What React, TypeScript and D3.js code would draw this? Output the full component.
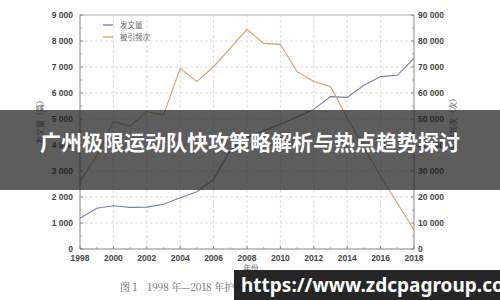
import React from "react";
import * as d3 from "d3";

const years = d3.range(1998, 2019);
const papers = [1180, 1570, 1665, 1600, 1610, 1720, 1970, 2200, 2680, 3800, 4300, 4550, 4800, 5080, 5370, 5860, 5830, 6300, 6630, 6680, 7330];
const citations = [25900, 36000, 49000, 47300, 52800, 51500, 69500, 64400, 70100, 77300, 84500, 79100, 78700, 68200, 64400, 62400, 50500, 39000, 28000, 17700, 7300];
const leftTicks = [0, 1000, 2000, 3000, 4000, 5000, 6000, 7000, 8000, 9000];
const rightTicks = [0, 10000, 20000, 30000, 40000, 50000, 60000, 70000, 80000, 90000];
const xTicks = [1998, 2000, 2002, 2004, 2006, 2008, 2010, 2012, 2014, 2016, 2018];
const legendItems = ["发文量", "被引频次"];
const title = "广州极限运动队快攻策略解析与热点趋势探讨";
const url = "https://www.zdcpagroup.com";
const caption = "图 1　1998 年—2018 年护理发文量";

const fmt = (v: number) => {
  const s = String(v);
  return s.length > 3 ? s.slice(0, s.length - 3) + " " + s.slice(-3) : s;
};

export default function App() {
  const W = 500, H = 300;
  const x = d3.scaleLinear().domain([1998, 2018]).range([80, 414]);
  const yL = d3.scaleLinear().domain([0, 9000]).range([249, 15]);
  const yR = d3.scaleLinear().domain([0, 90000]).range([249, 15]);
  const lineL = d3.line<number>().x((_, i) => x(years[i])).y((d) => yL(d));
  const lineR = d3.line<number>().x((_, i) => x(years[i])).y((d) => yR(d));
  const blue = "#6f80a8";
  const orange = "#d3a067";
  const tickFont = "Liberation Sans, Arial, sans-serif";
  const cjk = "Noto Sans CJK SC, sans-serif";
  const minorY = d3.range(500, 9000, 1000);
  const minorX = d3.range(1999, 2018, 2);
  return (
    <svg width={W} height={H} style={{ position: "absolute", left: 0, top: 0, background: "#fff" }}>
      <rect x={0} y={0} width={W} height={H} fill="#fff" />
      {/* grid */}
      {leftTicks.slice(1, -1).map((t) => (
        <line key={"h" + t} x1={80} x2={414} y1={yL(t)} y2={yL(t)} stroke="#d4d4d4" strokeWidth={0.8} strokeDasharray="3,2" />
      ))}
      {xTicks.slice(1, -1).map((t) => (
        <line key={"v" + t} x1={x(t)} x2={x(t)} y1={15} y2={249} stroke="#d4d4d4" strokeWidth={0.8} strokeDasharray="3,2" />
      ))}
      {/* frame */}
      <line x1={80} x2={414} y1={15} y2={15} stroke="#999" strokeWidth={0.8} />
      <line x1={80} x2={414} y1={249} y2={249} stroke="#777" strokeWidth={0.9} />
      <line x1={80} x2={80} y1={15} y2={249} stroke="#777" strokeWidth={0.9} />
      <line x1={414} x2={414} y1={15} y2={249} stroke="#777" strokeWidth={0.9} />
      {/* ticks */}
      {leftTicks.map((t) => (
        <g key={"lt" + t}>
          <line x1={80} x2={83} y1={yL(t)} y2={yL(t)} stroke="#777" strokeWidth={0.8} />
          <text x={73} y={yL(t) + 3} textAnchor="end" fontSize={8.5} fontWeight="bold" fill="#444" fontFamily={tickFont}>{fmt(t)}</text>
        </g>
      ))}
      {minorY.map((t) => (
        <line key={"ml" + t} x1={80} x2={82} y1={yL(t)} y2={yL(t)} stroke="#888" strokeWidth={0.7} />
      ))}
      {rightTicks.map((t) => (
        <g key={"rt" + t}>
          <line x1={411} x2={414} y1={yR(t)} y2={yR(t)} stroke="#777" strokeWidth={0.8} />
          <text x={418} y={yR(t) + 3} textAnchor="start" fontSize={8.5} fontWeight="bold" fill="#444" fontFamily={tickFont}>{fmt(t)}</text>
        </g>
      ))}
      {minorY.map((t) => (
        <line key={"mr" + t} x1={412} x2={414} y1={yL(t)} y2={yL(t)} stroke="#888" strokeWidth={0.7} />
      ))}
      {xTicks.map((t) => (
        <g key={"xt" + t}>
          <line x1={x(t)} x2={x(t)} y1={249} y2={246} stroke="#777" strokeWidth={0.8} />
          <text x={x(t)} y={261} textAnchor="middle" fontSize={8.5} fontWeight="bold" fill="#444" fontFamily={tickFont}>{t}</text>
        </g>
      ))}
      {minorX.map((t) => (
        <line key={"mx" + t} x1={x(t)} x2={x(t)} y1={249} y2={247} stroke="#888" strokeWidth={0.7} />
      ))}
      {/* axis titles */}
      <text transform="translate(43,120) rotate(-90)" textAnchor="middle" fontSize={8} fill="#666" fontFamily={cjk}>发文量（篇）</text>
      <text transform="translate(456,122) rotate(-90)" textAnchor="middle" fontSize={8} fill="#666" fontFamily={cjk}>被引频次（次）</text>
      <text x={251} y={271} textAnchor="middle" fontSize={7.5} fill="#666" fontFamily={cjk}>年份</text>
      {/* lines */}
      <path d={lineL(papers) || ""} fill="none" stroke={blue} strokeWidth={1.1} />
      <path d={lineR(citations) || ""} fill="none" stroke={orange} strokeWidth={1.1} />
      {/* legend */}
      {legendItems.map((l, i) => (
        <g key={l}>
          <line x1={103} x2={113} y1={25 + i * 12} y2={25 + i * 12} stroke={i === 0 ? blue : orange} strokeWidth={1.3} />
          <text x={120} y={28 + i * 12} fontSize={7.5} fill="#666" fontFamily={cjk}>{l}</text>
        </g>
      ))}
      {/* caption */}
      <text x={120} y={291} fontSize={10} fill="#666" fontFamily="Noto Serif CJK SC, serif">{caption}</text>
      {/* overlay band */}
      <rect x={0} y={110} width={W} height={80} fill="rgba(30,30,30,0.72)" />
      <text x={250} y={150} textAnchor="middle" fontSize={21} fontWeight="bold" fill="#fff" fontFamily={cjk}>{title}</text>
      {/* url box */}
      <rect x={234} y={270} width={266} height={30} fill="rgba(20,20,20,0.92)" />
      <text x={241} y={292} fontSize={19} fontWeight="bold" fill="#fff" fontFamily="Noto Sans, sans-serif">{url}</text>
    </svg>
  );
}
